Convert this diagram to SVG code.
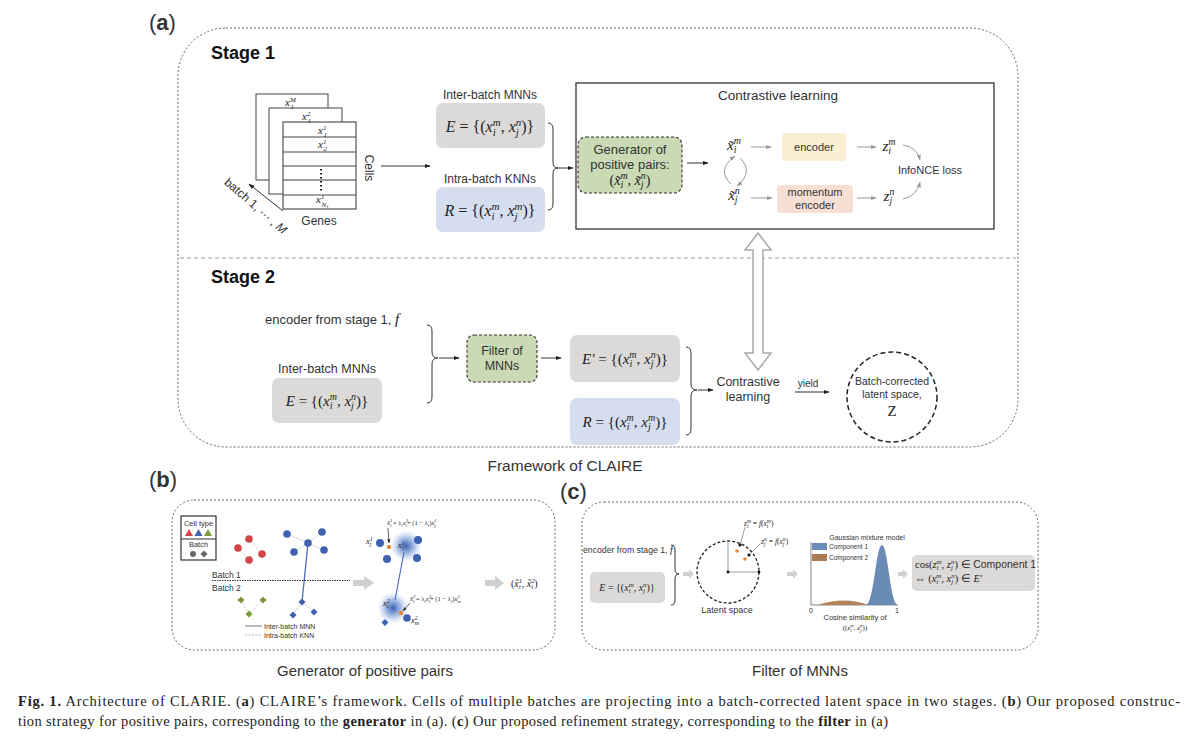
<svg xmlns="http://www.w3.org/2000/svg" width="1200" height="750" viewBox="0 0 1200 750">
<defs>
<style>
.s{font-family:"Liberation Sans",Arial,sans-serif;fill:#333}
.b{font-weight:bold;fill:#111}
.f{font-family:"Liberation Serif","Times New Roman",serif;fill:#222}
.it{font-style:italic}
.cap{font-family:"Liberation Serif","Times New Roman",serif;fill:#222;font-size:14.5px}
.dash{fill:none;stroke:#666;stroke-width:1;stroke-dasharray:2 2}
.ln{fill:none;stroke:#333;stroke-width:1}
.lg{fill:none;stroke:#999;stroke-width:1}
.gray{fill:#dcdad8}
.blue{fill:#d5deef}
.green{fill:#c9dab4;stroke:#333;stroke-width:1.1;stroke-dasharray:3 2}
.brace{fill:none;stroke:#333;stroke-width:1}
.bd{fill:#3f62b0}
.gar{fill:#cfcfcf}
</style>
<marker id="ab" viewBox="0 0 10 10" refX="9" refY="5" markerWidth="6" markerHeight="6" orient="auto"><path d="M0,1.5 L10,5 L0,8.5 z" fill="#222"/></marker>
<marker id="ag" viewBox="0 0 10 10" refX="9" refY="5" markerWidth="6" markerHeight="6" orient="auto"><path d="M0,1.5 L10,5 L0,8.5 z" fill="#999"/></marker>
<radialGradient id="glow"><stop offset="0" stop-color="#2f55b0" stop-opacity="0.95"/><stop offset="0.5" stop-color="#5f86cf" stop-opacity="0.55"/><stop offset="1" stop-color="#a9c2ee" stop-opacity="0"/></radialGradient>
</defs>
<rect width="1200" height="750" fill="#fff"/>

<!-- ================= Panel (a) ================= -->
<text class="s" x="149" y="30" font-size="22" fill="#111">(<tspan font-weight="bold">a</tspan>)</text>
<rect class="dash" x="178" y="28" width="840" height="419" rx="48"/>
<line x1="180" y1="258" x2="1016" y2="258" stroke="#999" stroke-width="1" stroke-dasharray="4 3"/>
<text class="s b" x="211" y="59" font-size="18">Stage 1</text>
<text class="s b" x="211" y="283" font-size="18">Stage 2</text>

<g id="matrix">
<rect x="256" y="94" width="72" height="86" fill="#fff" stroke="#555" stroke-width="1.1"/>
<rect x="269" y="108" width="73" height="86" fill="#fff" stroke="#555" stroke-width="1.1"/>
<rect x="283" y="122" width="73" height="87" fill="#fff" stroke="#444" stroke-width="1.1"/>
<path d="M283,137H356M283,152H356M283,166H356M283,180H356M283,195H356" stroke="#444" stroke-width="1"/>
<line x1="321" y1="169" x2="321" y2="191" stroke="#222" stroke-width="2" stroke-dasharray="1.5 2.5"/>
<text class="f it" x="285" y="106" font-size="11">x<tspan font-size="7" dy="-4.5">M</tspan></text>
<text class="f it" x="290.5" y="109" font-size="7">1</text>
<text class="f it" x="302" y="120" font-size="11">x<tspan font-size="7" dy="-4.5">2</tspan></text>
<text class="f it" x="307.5" y="123" font-size="7">1</text>
<text class="f it" x="318" y="134" font-size="11">x<tspan font-size="7" dy="-4.5">1</tspan></text>
<text class="f it" x="323.5" y="137" font-size="7">1</text>
<text class="f it" x="318" y="148" font-size="11">x<tspan font-size="7" dy="-4.5">1</tspan></text>
<text class="f it" x="323.5" y="151" font-size="7">2</text>
<text class="f it" x="316" y="203" font-size="11">x<tspan font-size="7" dy="-4.5">1</tspan></text>
<text class="f it" x="321.5" y="206.5" font-size="7">N<tspan font-size="5" dy="1.5">1</tspan></text>
<text class="s" x="365" y="168" font-size="12" text-anchor="middle" transform="rotate(90 365 168)">Cells</text>
<text class="s" x="319" y="225" font-size="12" text-anchor="middle">Genes</text>
<line x1="283" y1="211" x2="249" y2="184" class="ln" stroke="#555" marker-end="url(#ab)"/>
<text class="s" x="253" y="209" font-size="12" text-anchor="middle" transform="rotate(41 253 209)">batch 1, ⋯ , <tspan font-style="italic">M</tspan></text>
</g>

<g id="connectors-a">
<line x1="381" y1="166" x2="430" y2="166" class="ln" stroke="#555" marker-end="url(#ab)"/>
<path class="brace" d="M548,123 Q553,123 553,129 L553,162 Q553,168 558,168 Q553,168 553,174 L553,204 Q553,210 548,210"/>
<line x1="558" y1="168" x2="573" y2="168" class="ln" marker-end="url(#ab)"/>
<line x1="687" y1="163" x2="708" y2="163" class="ln" marker-end="url(#ab)"/>
<line x1="751" y1="147" x2="771" y2="147" class="lg" marker-end="url(#ag)"/>
<line x1="751" y1="198" x2="772" y2="198" class="lg" marker-end="url(#ag)"/>
<line x1="857" y1="147" x2="876" y2="147" class="lg" marker-end="url(#ag)"/>
<line x1="857" y1="198" x2="876" y2="198" class="lg" marker-end="url(#ag)"/>
<path class="lg" d="M731,184 Q716,170 735,156" marker-end="url(#ag)"/>
<path class="lg" d="M740,158 Q754,172 737,186" marker-end="url(#ag)"/>
<path class="lg" d="M903,145 Q917,147 920,160" marker-end="url(#ag)"/>
<path class="lg" d="M903,199 Q917,196 920,182" marker-end="url(#ag)"/>
<polygon points="758,233 771,250 763,250 763,353 771,353 758,370 745,353 753,353 753,250 745,250" fill="#fff" stroke="#aaa" stroke-width="1.5"/>
<path class="brace" d="M427,325 Q432,325 432,331 L432,352 Q432,358 438,358 Q432,358 432,364 L432,397 Q432,403 427,403"/>
<line x1="439" y1="358" x2="459" y2="358" class="ln" marker-end="url(#ab)"/>
<line x1="541" y1="358" x2="561" y2="358" class="ln" marker-end="url(#ab)"/>
<path class="brace" d="M686,347 Q691,347 691,353 L691,384 Q691,390 697,390 Q691,390 691,396 L691,429 Q691,435 686,435"/>
<line x1="698" y1="390" x2="713" y2="390" class="ln" marker-end="url(#ab)"/>
<line x1="795" y1="392" x2="829" y2="392" class="ln" marker-end="url(#ab)"/>
</g>

<g id="inter-mnn">
<text class="s" x="490" y="99" font-size="12" text-anchor="middle">Inter-batch MNNs</text>
<rect class="gray" x="436" y="103" width="109" height="45" rx="7"/>
<text class="f" x="490" y="132" font-size="16" text-anchor="middle"><tspan class="it">E</tspan> = {(<tspan class="it">x</tspan><tspan class="it" font-size="11" dy="-6">m</tspan><tspan class="it" font-size="11" dx="-7.9" dy="10">i</tspan><tspan dx="4.8" dy="-4">, </tspan><tspan class="it">x</tspan><tspan class="it" font-size="11" dy="-6">n</tspan><tspan class="it" font-size="11" dx="-5.5" dy="10">j</tspan><tspan dx="2.4" dy="-4">)}</tspan></text>
</g>
<g id="intra-knn">
<text class="s" x="490" y="183" font-size="12" text-anchor="middle">Intra-batch KNNs</text>
<rect class="blue" x="436" y="187" width="109" height="45" rx="7"/>
<text class="f" x="490" y="216" font-size="16" text-anchor="middle"><tspan class="it">R</tspan> = {(<tspan class="it">x</tspan><tspan class="it" font-size="11" dy="-6">m</tspan><tspan class="it" font-size="11" dx="-7.9" dy="10">i</tspan><tspan dx="4.8" dy="-4">, </tspan><tspan class="it">x</tspan><tspan class="it" font-size="11" dy="-6">m</tspan><tspan class="it" font-size="11" dx="-7.9" dy="10">j</tspan><tspan dx="4.8" dy="-4">)}</tspan></text>
</g>

<g id="contrastive-box">
<rect x="576" y="83" width="418" height="146" fill="none" stroke="#333" stroke-width="1.3"/>
<text class="s" x="778" y="100" font-size="13.5" text-anchor="middle">Contrastive learning</text>
</g>
<g id="generator">
<rect class="green" x="578" y="137" width="104" height="56" rx="8"/>
<text class="s" x="630" y="154" font-size="13" text-anchor="middle">Generator of</text>
<text class="s" x="630" y="169" font-size="13" text-anchor="middle">positive pairs:</text>
<text class="f" x="630" y="185" font-size="14" text-anchor="middle">(<tspan class="it">x̃</tspan><tspan class="it" font-size="10" dy="-6">m</tspan><tspan class="it" font-size="10" dx="-7.2" dy="9">i</tspan><tspan dx="4.4" dy="-3">, </tspan><tspan class="it">x̃</tspan><tspan class="it" font-size="10" dy="-6">n</tspan><tspan class="it" font-size="10" dx="-5" dy="9">j</tspan><tspan dx="2.2" dy="-3">)</tspan></text>
</g>
<g id="x-tilde">
<text class="f it" x="734" y="150" font-size="15" text-anchor="middle">x̃<tspan font-size="10" dy="-6">m</tspan><tspan font-size="10" dx="-7.2" dy="9">i</tspan><tspan dx="4.4" dy="-3"> </tspan></text>
<text class="f it" x="734" y="200" font-size="15" text-anchor="middle">x̃<tspan font-size="10" dy="-6">n</tspan><tspan font-size="10" dx="-5" dy="9">j</tspan><tspan dx="2.2" dy="-3"> </tspan></text>
</g>
<g id="encoder">
<rect x="782" y="133" width="64" height="28" rx="4" fill="#fbeed2"/>
<text class="s" x="814" y="151" font-size="11" text-anchor="middle">encoder</text>
</g>
<g id="momentum-encoder">
<rect x="777" y="185" width="76" height="28" rx="4" fill="#f7e0d3"/>
<text class="s" x="815" y="196" font-size="11" text-anchor="middle">momentum</text>
<text class="s" x="815" y="209" font-size="11" text-anchor="middle">encoder</text>
</g>
<g id="z-out">
<text class="f it" x="889" y="151" font-size="15" text-anchor="middle">z<tspan font-size="10" dy="-6">m</tspan><tspan font-size="10" dx="-7.2" dy="9">i</tspan><tspan dx="4.4" dy="-3"> </tspan></text>
<text class="f it" x="889" y="201" font-size="15" text-anchor="middle">z<tspan font-size="10" dy="-6">n</tspan><tspan font-size="10" dx="-5" dy="9">j</tspan><tspan dx="2.2" dy="-3"> </tspan></text>
</g>
<g id="infonce">
<text class="s" x="930" y="174" font-size="11" text-anchor="middle">InfoNCE loss</text>
</g>

<g id="stage2-inputs">
<text class="s" x="265" y="324" font-size="13">encoder from stage 1, <tspan class="f it" font-size="15">f</tspan></text>
<text class="s" x="327" y="373" font-size="12.5" text-anchor="middle">Inter-batch MNNs</text>
<rect class="gray" x="272" y="378" width="110" height="45" rx="7"/>
<text class="f" x="327" y="406" font-size="15" text-anchor="middle"><tspan class="it">E</tspan> = {(<tspan class="it">x</tspan><tspan class="it" font-size="10" dy="-6">m</tspan><tspan class="it" font-size="10" dx="-7.2" dy="9">i</tspan><tspan dx="4.4" dy="-3">, </tspan><tspan class="it">x</tspan><tspan class="it" font-size="10" dy="-6">n</tspan><tspan class="it" font-size="10" dx="-5" dy="9">j</tspan><tspan dx="2.2" dy="-3">)}</tspan></text>
</g>
<g id="filter">
<rect class="green" x="467" y="335" width="70" height="47" rx="7"/>
<text class="s" x="502" y="355" font-size="12.5" text-anchor="middle">Filter of</text>
<text class="s" x="502" y="370" font-size="12.5" text-anchor="middle">MNNs</text>
</g>
<g id="e-prime">
<rect class="gray" x="570" y="335" width="110" height="47" rx="7"/>
<text class="f" x="625" y="364" font-size="15" text-anchor="middle"><tspan class="it">E′</tspan> = {(<tspan class="it">x</tspan><tspan class="it" font-size="10" dy="-6">m</tspan><tspan class="it" font-size="10" dx="-7.2" dy="9">i</tspan><tspan dx="4.4" dy="-3">, </tspan><tspan class="it">x</tspan><tspan class="it" font-size="10" dy="-6">n</tspan><tspan class="it" font-size="10" dx="-5" dy="9">j</tspan><tspan dx="2.2" dy="-3">)}</tspan></text>
</g>
<g id="r-set">
<rect class="blue" x="570" y="398" width="110" height="47" rx="7"/>
<text class="f" x="625" y="427" font-size="15" text-anchor="middle"><tspan class="it">R</tspan> = {(<tspan class="it">x</tspan><tspan class="it" font-size="10" dy="-6">m</tspan><tspan class="it" font-size="10" dx="-7.2" dy="9">i</tspan><tspan dx="4.4" dy="-3">, </tspan><tspan class="it">x</tspan><tspan class="it" font-size="10" dy="-6">m</tspan><tspan class="it" font-size="10" dx="-7.2" dy="9">j</tspan><tspan dx="4.4" dy="-3">)}</tspan></text>
</g>
<g id="contrastive-2">
<text class="s" x="748" y="386" font-size="12.5" text-anchor="middle">Contrastive</text>
<text class="s" x="748" y="401" font-size="12.5" text-anchor="middle">learning</text>
<text class="s" x="808" y="387" font-size="10" text-anchor="middle">yield</text>
</g>
<g id="latent-z">
<circle cx="892" cy="397" r="45" fill="none" stroke="#222" stroke-width="1.5" stroke-dasharray="5 3"/>
<text class="s" x="892" y="385" font-size="10.5" text-anchor="middle">Batch-corrected</text>
<text class="s" x="892" y="398" font-size="10.5" text-anchor="middle">latent space,</text>
<text class="f" x="892" y="416" font-size="15" text-anchor="middle">Z</text>
</g>
<text class="s" x="565" y="471" font-size="15.5" text-anchor="middle">Framework of CLAIRE</text>

<!-- ================= Panel (b) ================= -->
<text class="s" x="149" y="487" font-size="22" fill="#111">(<tspan font-weight="bold">b</tspan>)</text>
<rect class="dash" x="172" y="500" width="383" height="150" rx="22"/>
<g id="legend-b">
<rect x="181" y="516" width="35" height="44" fill="#fff" stroke="#333" stroke-width="1.2"/>
<line x1="181" y1="539" x2="216" y2="539" stroke="#333" stroke-width="1.2"/>
<text class="s" x="198.5" y="526" font-size="7.5" text-anchor="middle">Cell type</text>
<polygon points="185,536 189,529 193,536" fill="#d64545"/>
<polygon points="194.5,536 198.5,529 202.5,536" fill="#3f62b0"/>
<polygon points="204,536 208,529 212,536" fill="#7a9a3a"/>
<text class="s" x="198.5" y="547" font-size="7.5" text-anchor="middle">Batch</text>
<circle cx="193" cy="554" r="3" fill="#666"/>
<polygon points="204,550.5 207.5,554 204,557.5 200.5,554" fill="#666"/>
</g>
<g id="cells-b">
<path d="M249,539L262,554M238,548L249,560M308,543L287,534M308,543L322,532M308,543L294,552M308,543L324,550M241,600L249,614M263,600L249,614M302,602L293,615M302,602L314,612" stroke="#bbb" stroke-width="0.9" stroke-dasharray="2 1.5" fill="none"/>
<path d="M308,543 Q305,572 302,602" stroke="#4a6cc0" stroke-width="1.3" fill="none"/>
<circle cx="249" cy="539" r="3.8" fill="#d64545"/><circle cx="238" cy="548" r="3.8" fill="#d64545"/><circle cx="262" cy="554" r="3.8" fill="#d64545"/><circle cx="249" cy="560" r="3.8" fill="#d64545"/>
<circle class="bd" cx="287" cy="534" r="3.8"/><circle class="bd" cx="322" cy="532" r="3.8"/><circle class="bd" cx="308" cy="543" r="3.8"/><circle class="bd" cx="294" cy="552" r="3.8"/><circle class="bd" cx="324" cy="550" r="3.8"/>
<text class="s" x="212" y="578" font-size="8.5">Batch 1</text>
<line x1="212" y1="580.5" x2="350" y2="580.5" stroke="#333" stroke-width="1" stroke-dasharray="1.5 1"/>
<text class="s" x="212" y="591" font-size="8.5">Batch 2</text>
<polygon points="241,596.5 244.5,600 241,603.5 237.5,600" fill="#7a9a3a"/>
<polygon points="263,596.5 266.5,600 263,603.5 259.5,600" fill="#7a9a3a"/>
<polygon points="249,610.5 252.5,614 249,617.5 245.5,614" fill="#7a9a3a"/>
<polygon class="bd" points="302,598.5 305.5,602 302,605.5 298.5,602"/>
<polygon class="bd" points="293,611.5 296.5,615 293,618.5 289.5,615"/>
<polygon class="bd" points="314,608.5 317.5,612 314,615.5 310.5,612"/>
<line x1="245" y1="626" x2="262" y2="626" stroke="#777" stroke-width="1"/>
<text class="s" x="264" y="628.5" font-size="7">Inter-batch MNN</text>
<line x1="245" y1="635" x2="262" y2="635" stroke="#aaa" stroke-width="0.9" stroke-dasharray="2 1.5"/>
<text class="s" x="264" y="637.5" font-size="7">Intra-batch KNN</text>
</g>
<g id="mixup-b">
<polygon class="gar" points="353,580 364,580 364,576 374,583 364,590 364,586 353,586"/>
<circle cx="406" cy="546" r="16" fill="url(#glow)"/>
<circle cx="393" cy="608" r="16" fill="url(#glow)"/>
<line x1="404" y1="552" x2="395" y2="600" stroke="#4a6cc0" stroke-width="1.2"/>
<circle class="bd" cx="380" cy="543" r="4"/><circle class="bd" cx="418" cy="540" r="4"/><circle class="bd" cx="387" cy="559" r="4"/><circle class="bd" cx="417" cy="558" r="4"/>
<circle cx="389" cy="547" r="2.2" fill="#e08a3c"/>
<text class="f it" x="366" y="544" font-size="8.5">x<tspan font-size="6" dy="-3.5">1</tspan><tspan font-size="6" dx="-3" dy="5.5">j</tspan></text>
<text class="f it" x="398" y="548" font-size="8.5">x<tspan font-size="6" dy="-3.5">1</tspan><tspan font-size="6" dx="-3" dy="5.5">i</tspan></text>
<text class="f" x="387" y="525" font-size="6.5"><tspan class="it">x̃</tspan><tspan class="it" font-size="5" dy="-3">1</tspan><tspan class="it" font-size="5" dx="-2.5" dy="5">i</tspan><tspan dy="-2"> = λ</tspan><tspan class="it" font-size="5" dy="2">i</tspan><tspan class="it" dy="-2">x</tspan><tspan class="it" font-size="5" dy="-3">1</tspan><tspan class="it" font-size="5" dx="-2.5" dy="5">i</tspan><tspan dy="-2">+ (1 − λ</tspan><tspan class="it" font-size="5" dy="2">i</tspan><tspan dy="-2">)</tspan><tspan class="it">x</tspan><tspan class="it" font-size="5" dy="-3">1</tspan><tspan class="it" font-size="5" dx="-2.5" dy="5">j</tspan></text>
<line x1="388" y1="528" x2="389" y2="543" stroke="#222" stroke-width="0.7" marker-end="url(#ab)"/>
<circle class="bd" cx="407" cy="618" r="3.8"/>
<polygon class="bd" points="385,619 388.5,622.5 385,626 381.5,622.5"/>
<circle cx="401" cy="613" r="2.2" fill="#e08a3c"/>
<text class="f it" x="383" y="606" font-size="8.5">x<tspan font-size="6" dy="-3.5">2</tspan><tspan font-size="6" dx="-3" dy="5.5">i</tspan></text>
<text class="f it" x="411" y="623" font-size="8.5">x<tspan font-size="6" dy="-3.5">2</tspan><tspan font-size="6" dx="-3" dy="5.5">m</tspan></text>
<text class="f" x="410" y="601" font-size="6.5"><tspan class="it">x̃</tspan><tspan class="it" font-size="5" dy="-3">2</tspan><tspan class="it" font-size="5" dx="-2.5" dy="5">i</tspan><tspan dy="-2"> = λ</tspan><tspan class="it" font-size="5" dy="2">i</tspan><tspan class="it" dy="-2">x</tspan><tspan class="it" font-size="5" dy="-3">2</tspan><tspan class="it" font-size="5" dx="-2.5" dy="5">i</tspan><tspan dy="-2">+ (1 − λ</tspan><tspan class="it" font-size="5" dy="2">i</tspan><tspan dy="-2">)</tspan><tspan class="it">x</tspan><tspan class="it" font-size="5" dy="-3">2</tspan><tspan class="it" font-size="5" dx="-2.5" dy="5">m</tspan></text>
<line x1="410" y1="603" x2="403" y2="611" stroke="#222" stroke-width="0.7" marker-end="url(#ab)"/>
<polygon class="gar" points="485,580 495,580 495,576 504,583 495,590 495,586 485,586"/>
<text class="f" x="511" y="587" font-size="10">(<tspan class="it">x̃</tspan><tspan class="it" font-size="7" dy="-4">1</tspan><tspan class="it" font-size="7" dx="-3.5" dy="6">i</tspan><tspan dx="1" dy="-2">, </tspan><tspan class="it">x̃</tspan><tspan class="it" font-size="7" dy="-4">2</tspan><tspan class="it" font-size="7" dx="-3.5" dy="6">i</tspan><tspan dx="1" dy="-2">)</tspan></text>
</g>
<text class="s" x="365" y="676" font-size="15" text-anchor="middle">Generator of positive pairs</text>

<!-- ================= Panel (c) ================= -->
<text class="s" x="560" y="499" font-size="22" fill="#111">(<tspan font-weight="bold">c</tspan>)</text>
<rect class="dash" x="582" y="502" width="456" height="148" rx="22"/>
<g id="inputs-c">
<text class="s" x="583" y="553" font-size="8.7">encoder from stage 1, <tspan class="f it" font-size="10">f</tspan></text>
<rect class="gray" x="590" y="572" width="75" height="31" rx="5"/>
<text class="f" x="627" y="591" font-size="10" text-anchor="middle"><tspan class="it">E</tspan> = {(<tspan class="it">x</tspan><tspan class="it" font-size="7" dy="-4">m</tspan><tspan class="it" font-size="7" dx="-5" dy="6">i</tspan><tspan dx="3" dy="-2">, </tspan><tspan class="it">x</tspan><tspan class="it" font-size="7" dy="-4">n</tspan><tspan class="it" font-size="7" dx="-3.5" dy="6">j</tspan><tspan dx="1.5" dy="-2">)}</tspan></text>
<path class="brace" d="M671,545 Q675,545 675,550 L675,569 Q675,574 679,574 Q675,574 675,579 L675,600 Q675,605 671,605"/>
<polygon class="gar" points="683,572 689,572 689,569.5 694,574 689,578.5 689,576 683,576"/>
</g>
<g id="latent-c">
<circle cx="728" cy="572" r="31" fill="none" stroke="#222" stroke-width="1.3" stroke-dasharray="3 2"/>
<line x1="728" y1="572" x2="759" y2="572" stroke="#888" stroke-width="0.8"/>
<line x1="728" y1="572" x2="728" y2="541" stroke="#888" stroke-width="0.8"/>
<circle cx="728" cy="572" r="1.4" fill="#111"/>
<circle cx="759" cy="572" r="1.4" fill="#111"/>
<circle cx="740" cy="545" r="1.6" fill="#111"/>
<circle cx="737" cy="551" r="1.8" fill="#e08a3c"/>
<circle cx="745" cy="559" r="1.8" fill="#e08a3c"/>
<circle cx="749" cy="555" r="1.6" fill="#111"/>
<line x1="745" y1="527" x2="740.5" y2="544" stroke="#555" stroke-width="0.6"/>
<line x1="760" y1="544" x2="750" y2="554" stroke="#555" stroke-width="0.6"/>
<text class="f" x="744" y="526" font-size="7.5"><tspan class="it">z</tspan><tspan class="it" font-size="5.5" dy="-3">m</tspan><tspan class="it" font-size="5.5" dx="-4" dy="5">i</tspan><tspan dx="2.5" dy="-2"> = </tspan><tspan class="it">f</tspan>(<tspan class="it">x</tspan><tspan class="it" font-size="5.5" dy="-3">m</tspan><tspan class="it" font-size="5.5" dx="-4" dy="5">i</tspan><tspan dx="2.5" dy="-2">)</tspan></text>
<text class="f" x="761" y="544" font-size="7.5"><tspan class="it">z</tspan><tspan class="it" font-size="5.5" dy="-3">n</tspan><tspan class="it" font-size="5.5" dx="-2.8" dy="5">j</tspan><tspan dx="1.5" dy="-2"> = </tspan><tspan class="it">f</tspan>(<tspan class="it">x</tspan><tspan class="it" font-size="5.5" dy="-3">n</tspan><tspan class="it" font-size="5.5" dx="-2.8" dy="5">j</tspan><tspan dx="1.5" dy="-2">)</tspan></text>
<text class="s" x="727" y="613" font-size="9" text-anchor="middle">Latent space</text>
<polygon class="gar" points="787,572 793,572 793,569.5 798,574 793,578.5 793,576 787,576"/>
</g>
<g id="gmm-c">
<text class="s" x="867" y="540" font-size="7" text-anchor="middle">Gaussian mixture model</text>
<line x1="811" y1="542" x2="811" y2="605" stroke="#555" stroke-width="0.7"/>
<line x1="811" y1="605" x2="898" y2="605" stroke="#555" stroke-width="0.7"/>
<path d="M818,605 C834,599 854,599 868,605 Z" fill="#b4835a"/>
<path d="M866,605 C874,604 876,545 882,545 C888,545 890,604 898,605 Z" fill="#6a8bb5"/>
<rect x="812" y="543" width="15" height="7" fill="#6a8bb5"/>
<text class="s" x="829" y="549" font-size="6.5">Component 1</text>
<rect x="812" y="554" width="15" height="7" fill="#a97c55"/>
<text class="s" x="829" y="560" font-size="6.5">Component 2</text>
<text class="s" x="811" y="613" font-size="7" text-anchor="middle">0</text>
<text class="s" x="897" y="613" font-size="7" text-anchor="middle">1</text>
<text class="s" x="855" y="620" font-size="7.5" text-anchor="middle">Cosine similarity of</text>
<text class="f" x="855" y="630" font-size="7" text-anchor="middle">((<tspan class="it">z</tspan><tspan class="it" font-size="5" dy="-3">m</tspan><tspan class="it" font-size="5" dx="-3.6" dy="5">i</tspan><tspan dx="2.2" dy="-2">, </tspan><tspan class="it">z</tspan><tspan class="it" font-size="5" dy="-3">n</tspan><tspan class="it" font-size="5" dx="-2.5" dy="5">j</tspan><tspan dx="1.2" dy="-2">))</tspan></text>
<polygon class="gar" points="898,572 903,572 903,569.5 908,574 903,578.5 903,576 898,576"/>
</g>
<g id="result-c">
<rect class="gray" x="912" y="555" width="123" height="36" rx="5"/>
<text class="f" x="915" y="568" font-size="10.5">cos(<tspan class="it">z</tspan><tspan class="it" font-size="7" dy="-4">m</tspan><tspan class="it" font-size="7" dx="-5" dy="6">i</tspan><tspan dx="3" dy="-2">, </tspan><tspan class="it">z</tspan><tspan class="it" font-size="7" dy="-4">n</tspan><tspan class="it" font-size="7" dx="-3.5" dy="6">j</tspan><tspan dx="1.5" dy="-2">) ∈ </tspan><tspan class="s" font-size="10.5">Component 1</tspan></text>
<text class="f" x="915" y="582" font-size="10.5">⇔ (<tspan class="it">x</tspan><tspan class="it" font-size="7" dy="-4">m</tspan><tspan class="it" font-size="7" dx="-5" dy="6">i</tspan><tspan dx="3" dy="-2">, </tspan><tspan class="it">x</tspan><tspan class="it" font-size="7" dy="-4">n</tspan><tspan class="it" font-size="7" dx="-3.5" dy="6">j</tspan><tspan dx="1.5" dy="-2">) ∈ </tspan><tspan class="it">E′</tspan></text>
</g>
<text class="s" x="800" y="676" font-size="15" text-anchor="middle">Filter of MNNs</text>

<!-- ================= Caption ================= -->
<text class="cap" x="18" y="706" textLength="1162" lengthAdjust="spacing"><tspan font-weight="bold">Fig. 1.</tspan> Architecture of CLARIE. (<tspan font-weight="bold">a</tspan>) CLAIRE’s framework. Cells of multiple batches are projecting into a batch-corrected latent space in two stages. (<tspan font-weight="bold">b</tspan>) Our proposed construc-</text>
<text class="cap" x="18" y="726" textLength="870" lengthAdjust="spacing">tion strategy for positive pairs, corresponding to the <tspan font-weight="bold">generator</tspan> in (a). (<tspan font-weight="bold">c</tspan>) Our proposed refinement strategy, corresponding to the <tspan font-weight="bold">filter</tspan> in (a)</text>
</svg>
